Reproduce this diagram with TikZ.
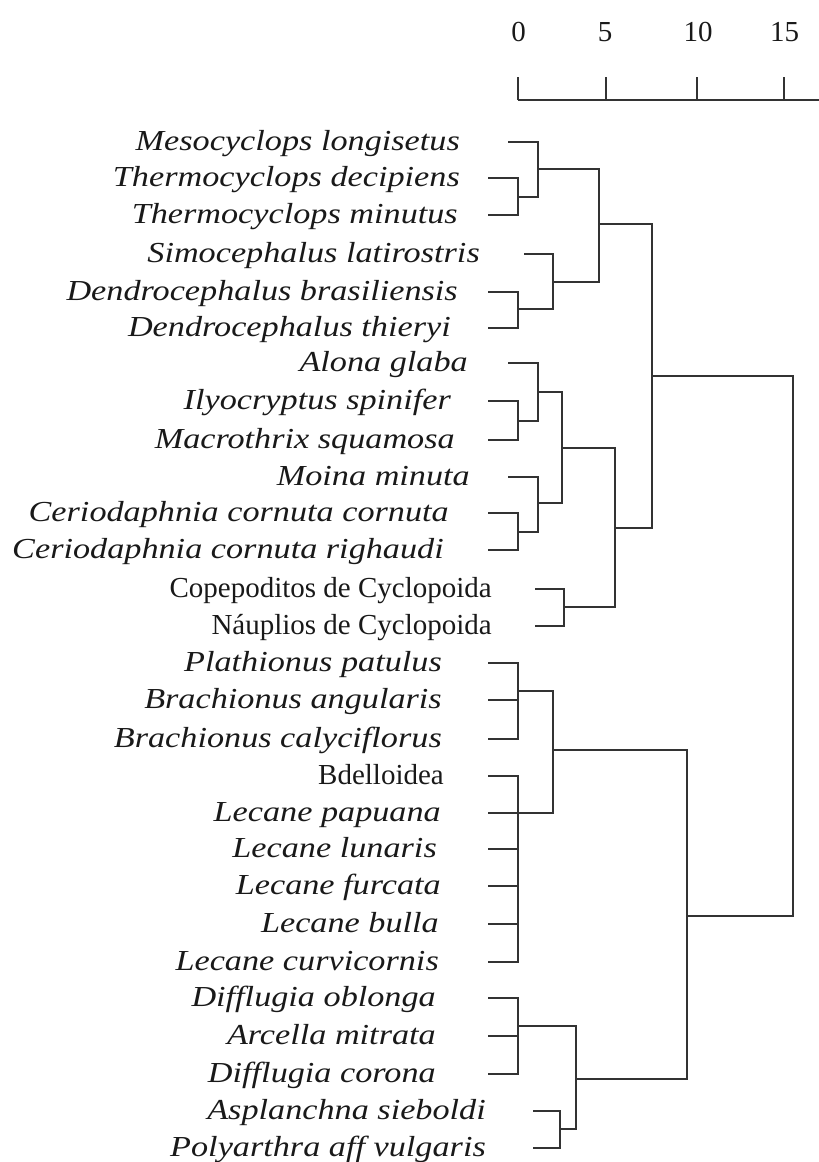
\documentclass[tikz,border=0pt]{standalone}
\usepackage{fontspec}
\setmainfont{Liberation Serif}
\newfontfamily\spfont[FakeStretch=1.18]{Liberation Serif}
\tikzset{
  sp/.style={font=\spfont\itshape\fontsize{29}{30}\selectfont, inner sep=0pt, anchor=base east, text=black!90},
  up/.style={font=\fontsize{29}{30}\selectfont, inner sep=0pt, anchor=base east, text=black!90},
  br/.style={line width=1.6pt, draw=black!80},
}
\begin{document}
\begin{tikzpicture}[x=1pt,y=-1pt]
\useasboundingbox (0,0) rectangle (819,1162);
% axis
\coordinate (a0) at (518,100);
\coordinate (a5) at (606,100);
\coordinate (a10) at (697,100);
\coordinate (a15) at (784,100);
\coordinate (aend) at (819,100);
\draw[br] (a0) -- (aend);
\foreach \t in {a0,a5,a10,a15} \draw[br] (\t) -- ++(0,-23);
\node[up, anchor=base] (k0) at (518.5,41.7) {0};
\node[up, anchor=base] (k5) at (605,41.7) {5};
\node[up, anchor=base] (k10) at (698,41.7) {10};
\node[up, anchor=base] (k15) at (784.5,41.7) {15};
% leaf starts
\coordinate (l1) at (508,142);
\coordinate (l2) at (488,178);
\coordinate (l3) at (488,215);
\coordinate (l4) at (524,254);
\coordinate (l5) at (488,292);
\coordinate (l6) at (488,328);
\coordinate (l7) at (508,363);
\coordinate (l8) at (488,401);
\coordinate (l9) at (488,440);
\coordinate (l10) at (508,477);
\coordinate (l11) at (488,513);
\coordinate (l12) at (488,550);
\coordinate (l13) at (535,589);
\coordinate (l14) at (535,626);
\coordinate (l15) at (488,663);
\coordinate (l16) at (488,700);
\coordinate (l17) at (488,739);
\coordinate (l18) at (488,776);
\coordinate (l19) at (488,813);
\coordinate (l20) at (488,849);
\coordinate (l21) at (488,886);
\coordinate (l22) at (488,924);
\coordinate (l23) at (488,962);
\coordinate (l24) at (488,998);
\coordinate (l25) at (488,1036);
\coordinate (l26) at (488,1074);
\coordinate (l27) at (533,1111);
\coordinate (l28) at (533,1148);
% joins
\coordinate (ja) at (518,197);
\coordinate (jb) at (538,169);
\coordinate (jc) at (518,309);
\coordinate (jd) at (553,282);
\coordinate (je) at (599,224);
\coordinate (jf) at (518,421);
\coordinate (jg) at (538,392);
\coordinate (jh) at (518,532);
\coordinate (ji) at (538,503);
\coordinate (jj) at (562,448);
\coordinate (jk) at (564,607);
\coordinate (jl) at (615,528);
\coordinate (jm) at (652,376);
\coordinate (jn) at (518,691);
\coordinate (jo) at (518,813);
\coordinate (jp) at (553,750);
\coordinate (jq) at (518,1026);
\coordinate (jr) at (560,1129);
\coordinate (js) at (576,1079);
\coordinate (jt) at (687,916);
\coordinate (ju) at (793,646);
% labels
\node[sp] (t1) at (460,150) {Mesocyclops longisetus};
\node[sp] (t2) at (460,186) {Thermocyclops decipiens};
\node[sp] (t3) at (458,223) {Thermocyclops minutus};
\node[sp] (t4) at (480,262) {Simocephalus latirostris};
\node[sp] (t5) at (458,300) {Dendrocephalus brasiliensis};
\node[sp] (t6) at (451,336) {Dendrocephalus thieryi};
\node[sp] (t7) at (468,371) {Alona glaba};
\node[sp] (t8) at (451,409) {Ilyocryptus spinifer};
\node[sp] (t9) at (455,448) {Macrothrix squamosa};
\node[sp] (t10) at (470,485) {Moina minuta};
\node[sp] (t11) at (449,521) {Ceriodaphnia cornuta cornuta};
\node[sp] (t12) at (444,558) {Ceriodaphnia cornuta righaudi};
\node[up] (t13) at (492,597) {Copepoditos de Cyclopoida};
\node[up] (t14) at (492,634) {Náuplios de Cyclopoida};
\node[sp] (t15) at (442,671) {Plathionus patulus};
\node[sp] (t16) at (442,708) {Brachionus angularis};
\node[sp] (t17) at (442,747) {Brachionus calyciflorus};
\node[up] (t18) at (444,784) {Bdelloidea};
\node[sp] (t19) at (441,821) {Lecane papuana};
\node[sp] (t20) at (437,857) {Lecane lunaris};
\node[sp] (t21) at (441,894) {Lecane furcata};
\node[sp] (t22) at (439,932) {Lecane bulla};
\node[sp] (t23) at (439,970) {Lecane curvicornis};
\node[sp] (t24) at (436,1006) {Difflugia oblonga};
\node[sp] (t25) at (436,1044) {Arcella mitrata};
\node[sp] (t26) at (436,1082) {Difflugia corona};
\node[sp] (t27) at (486,1119) {Asplanchna sieboldi};
\node[sp] (t28) at (486,1156) {Polyarthra aff vulgaris};
% dendrogram
\draw[br] (l2) -| (ja) |- (l3);
\draw[br] (l1) -| (jb) |- (ja);
\draw[br] (l5) -| (jc) |- (l6);
\draw[br] (l4) -| (jd) |- (jc);
\draw[br] (jb) -| (je) |- (jd);
\draw[br] (l8) -| (jf) |- (l9);
\draw[br] (l7) -| (jg) |- (jf);
\draw[br] (l11) -| (jh) |- (l12);
\draw[br] (l10) -| (ji) |- (jh);
\draw[br] (jg) -| (jj) |- (ji);
\draw[br] (l13) -| (jk) |- (l14);
\draw[br] (jj) -| (jl) |- (jk);
\draw[br] (je) -| (jm) |- (jl);
\draw[br] (l15) -| (jn) |- (l17);
\draw[br] (l16) -- (l16 -| jn);
\draw[br] (l18) -| (jo) |- (l23);
\foreach \n in {l19,l20,l21,l22} \draw[br] (\n) -- (\n -| jo);
\draw[br] (jn) -| (jp) |- (jo);
\draw[br] (l24) -| (jq) |- (l26);
\draw[br] (l25) -- (l25 -| jq);
\draw[br] (l27) -| (jr) |- (l28);
\draw[br] (jq) -| (js) |- (jr);
\draw[br] (jp) -| (jt) |- (js);
\draw[br] (jm) -| (ju) |- (jt);
\end{tikzpicture}
\end{document}
